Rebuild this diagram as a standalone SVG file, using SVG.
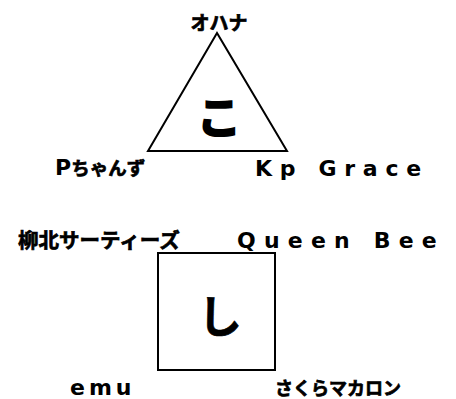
<svg xmlns="http://www.w3.org/2000/svg" width="456" height="399" viewBox="0 0 456 399">
<style>
.lat{font-family:"DejaVu Sans","Noto Sans CJK JP",sans-serif;font-weight:bold;font-size:22px;fill:#000}
.jp{font-family:"Noto Sans CJK JP","DejaVu Sans",sans-serif;font-weight:bold;fill:#000;stroke:#000;stroke-width:0.7}
.big{font-family:"Noto Sans CJK JP","DejaVu Sans",sans-serif;font-weight:bold;fill:#000;stroke:#000}
.shape{fill:#fff;stroke:#000;stroke-width:2}
</style>
<rect width="456" height="399" fill="#fff"/>
<g id="triangle">
<polygon class="shape" points="217,33 148,151 287,151"/>
<text class="big" x="219" y="134" font-size="44" stroke-width="2.2" text-anchor="middle">こ</text>
</g>
<g id="square">
<rect class="shape" x="158" y="253" width="117" height="117"/>
<text class="big" x="220" y="333" font-size="44" stroke-width="0.6" text-anchor="middle">し</text>
</g>
<g id="label-ohana"><text class="jp" x="219" y="30" font-size="19" text-anchor="middle">オハナ</text></g>
<g id="label-pchanzu"><text class="lat" x="55" y="175">P<tspan class="jp" font-size="18.5">ちゃんず</tspan></text></g>
<g id="label-kpgrace"><text class="lat" x="255" y="176" letter-spacing="7.7">Kp Grace</text></g>
<g id="label-yanagi"><text class="jp" x="18" y="248" font-size="20.5">柳北サーティーズ</text></g>
<g id="label-queenbee"><text class="lat" x="237" y="248" letter-spacing="8.2">Queen Bee</text></g>
<g id="label-emu"><text class="lat" x="70" y="395" letter-spacing="4">emu</text></g>
<g id="label-sakura"><text class="jp" x="275" y="395" font-size="18">さくらマカロン</text></g>
</svg>
